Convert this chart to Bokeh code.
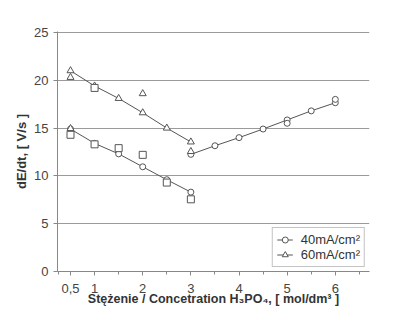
from bokeh.plotting import figure
from bokeh.models import FixedTicker, Range1d, Legend, LegendItem
from bokeh.embed import file_html
from bokeh.resources import INLINE

# ---- data ----
conc_left = [0.5, 1, 1.5, 2, 2.5, 3]
i40_line = [14.9, 13.4, 12.3, 10.95, 9.6, 8.3]
i60_line = [21.0, 19.4, 18.1, 16.6, 15.0, 13.55]
conc_right = [3, 3.5, 4, 4.5, 5, 5.5, 6]
right_line = [12.25, 13.15, 14.0, 14.9, 15.85, 16.8, 17.65]
sq_x = [0.5, 1, 1.5, 2, 2.5, 3, 1]
sq_y = [14.3, 13.3, 12.9, 12.2, 9.3, 7.55, 19.2]
tri_x = [0.5, 2, 3, 0.5]
tri_y = [20.3, 18.6, 12.55, 14.95]
circ_x = [5, 6]
circ_y = [15.5, 18.0]
x_ticks = [0.5, 1, 2, 3, 4, 5, 6]
x_tick_labels = ["0,5", "1", "2", "3", "4", "5", "6"]
y_ticks = [0, 5, 10, 15, 20, 25]

GRAY = "#555555"
FONT = "Liberation Sans"

p = figure(width=400, height=310, output_backend="svg", toolbar_location=None,
           x_range=Range1d(0.23, 6.71), y_range=Range1d(0, 25.1),
           min_border_left=57, min_border_top=31, min_border_right=31, min_border_bottom=39)
p.outline_line_color = None
p.background_fill_color = "white"
p.border_fill_color = "white"

p.xgrid.visible = False
p.ygrid.grid_line_color = "#9a9a9a"
p.ygrid.grid_line_width = 1
p.ygrid.ticker = FixedTicker(ticks=y_ticks)

for ax in (p.xaxis[0], p.yaxis[0]):
    ax.axis_line_color = "#888888"
    ax.major_tick_line_color = "#888888"
    ax.minor_tick_line_color = "#888888"
    ax.major_tick_in = 0
    ax.major_tick_out = 4
    ax.minor_tick_in = 0
    ax.minor_tick_out = 3
    ax.major_label_text_font = FONT
    ax.major_label_text_font_size = "13px"
    ax.major_label_text_color = "#444444"
    ax.axis_label_text_font = FONT
    ax.axis_label_text_font_style = "bold"
    ax.axis_label_text_color = "#333333"

p.xaxis.ticker = FixedTicker(ticks=x_ticks,
                             minor_ticks=[0.25, 1.5, 2.5, 3.5, 4.5, 5.5, 6.5])
p.xaxis.major_label_overrides = {t: l for t, l in zip(x_ticks, x_tick_labels)}
p.xaxis.major_label_standoff = 8
p.xaxis.axis_label = "Stężenie / Concetration H₃PO₄, [ mol/dm³ ]"
p.xaxis.axis_label_text_font_size = "12.5px"
p.xaxis.axis_label_standoff = -4

p.yaxis.ticker = FixedTicker(ticks=y_ticks, minor_ticks=[])
p.yaxis.major_label_standoff = 5
p.yaxis.axis_label = "dE/dt, [ V/s ]"
p.yaxis.axis_label_text_font_size = "13px"
p.yaxis.axis_label_standoff = 2

# lines with markers
l40 = p.line(conc_left, i40_line, line_color=GRAY, line_width=1)
m40 = p.scatter(conc_left, i40_line, marker="circle", size=6, line_color=GRAY, fill_color="white")
l60 = p.line(conc_left, i60_line, line_color=GRAY, line_width=1)
m60 = p.scatter(conc_left, i60_line, marker="triangle", size=7, line_color=GRAY, fill_color="white")
p.line(conc_right, right_line, line_color=GRAY, line_width=1)
p.scatter(conc_right, right_line, marker="circle", size=6, line_color=GRAY, fill_color="white")

# loose points
p.scatter(sq_x, sq_y, marker="square", size=7, line_color=GRAY, fill_color="white")
p.scatter(tri_x, tri_y, marker="triangle", size=7, line_color=GRAY, fill_color="white")
p.scatter(circ_x, circ_y, marker="circle", size=6, line_color=GRAY, fill_color="white")

legend = Legend(items=[LegendItem(label="40mA/cm²", renderers=[l40, m40]),
                       LegendItem(label="60mA/cm²", renderers=[l60, m60])],
                location="bottom_right", margin=4, padding=4, spacing=0,
                label_text_font=FONT, label_text_font_size="13px", label_text_color="#333333",
                label_height=15, glyph_height=15, glyph_width=16, label_standoff=8,
                border_line_color="#888888", border_line_width=1,
                background_fill_alpha=1)
p.add_layout(legend)

open("out.html", "w").write(file_html(p, INLINE))
